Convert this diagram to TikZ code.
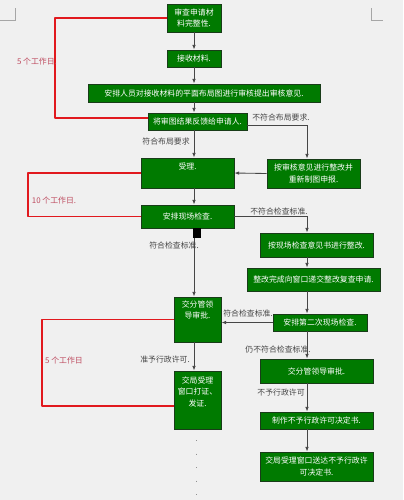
\documentclass[tikz,border=0pt]{standalone}
\usepackage{fontspec}
\setmainfont{Noto Sans CJK SC}
\usetikzlibrary{arrows.meta}
\definecolor{boxgreen}{RGB}{0,122,0}
\definecolor{boxedge}{RGB}{25,60,25}
\definecolor{pagebg}{RGB}{240,240,240}
\definecolor{limitred}{RGB}{225,25,30}
\definecolor{limittext}{RGB}{190,75,95}
\definecolor{flowgray}{RGB}{70,70,70}
\tikzset{gbox/.style={draw=boxedge,fill=boxgreen,text=white,line width=0.5pt,inner sep=0pt,
   align=center,font=\fontsize{5.6}{8}\selectfont},
 flow/.style={draw=flowgray,line width=0.6pt,-{Latex[length=1.2mm,width=0.9mm]}},
 limit/.style={draw=limitred,line width=1.4pt,line join=round},
 note/.style={text=flowgray,inner sep=0pt,font=\fontsize{5.6}{7}\selectfont},
 daynote/.style={text=limittext,inner sep=0pt,font=\fontsize{5.6}{7}\selectfont}}

\begin{document}
\begin{tikzpicture}[x=0.025cm,y=-0.025cm]
\path[fill=pagebg] (0,0) rectangle (403,500);
\useasboundingbox (0,0) rectangle (403,500);
% page corner marks
\draw[black!35,line width=0.4pt] (0,20) -- (15,20) -- (15,8);
\draw[black!35,line width=0.4pt] (371,8) -- (371,20) -- (383,20);
\coordinate (rcol) at (307,0);
% main column
\node[gbox,minimum width=1.35cm,minimum height=0.70cm] (shenqing) at (194,18) {审查申请材\\料完整性.};
\node[gbox,minimum width=1.35cm,minimum height=0.425cm] (jieshou) at (194,58.5) {接收材料.};
\node[gbox,minimum width=5.80cm,minimum height=0.45cm] (shentu) at (204,93) {安排人员对接收材料的平面布局图进行审核提出审核意见.};
\node[gbox,minimum width=2.475cm,minimum height=0.425cm] (fankui) at (197.5,121.5) {将审图结果反馈给申请人.};
\node[gbox,minimum width=2.325cm,minimum height=0.75cm,text depth=9pt] (shouli) at (187.5,173) {受理.};
\node[gbox,minimum width=2.325cm,minimum height=0.725cm] (zhitu) at (313.5,173.5) {按审核意见进行整改并\\重新制图申报.};
\node[gbox,minimum width=2.325cm,minimum height=0.575cm] (xianchang) at (187.5,216.5) {安排现场检查.};
\node[gbox,minimum width=1.175cm,minimum height=1.125cm,text depth=14pt] (pishen) at (197.5,319.5) {交分管领\\导审批.};
\node[gbox,minimum width=1.175cm,minimum height=1.45cm,text depth=12pt] (fazheng) at (197.5,400) {交局受理\\窗口打证、\\发证.};
% right column
\node[gbox,minimum width=2.825cm,minimum height=0.60cm] (zhenggai) at (316.5,245) {按现场检查意见书进行整改.};
\node[gbox,minimum width=3.325cm,minimum height=0.575cm] (fucha) at (313.5,279.5) {整改完成向窗口递交整改复查申请.};
\node[gbox,minimum width=2.35cm,minimum height=0.425cm] (erci) at (320,322.5) {安排第二次现场检查.};
\node[gbox,minimum width=2.825cm,minimum height=0.60cm] (lingdao) at (316.5,371) {交分管领导审批.};
\node[gbox,minimum width=2.825cm,minimum height=0.425cm] (zhizuo) at (316.5,420.5) {制作不予行政许可决定书.};
\node[gbox,minimum width=2.825cm,minimum height=0.725cm] (songda) at (316.5,466.5) {交局受理窗口送达不予行政许\\可决定书.};
% connectors
\draw[flow] (shenqing) -- (jieshou);
\draw[flow] (jieshou) -- (jieshou |- shentu.north);
\draw[flow] (shentu.south -| jieshou) -- (jieshou |- fankui.north);
\draw[flow] (fankui.south -| jieshou) -- (jieshou |- shouli.north);
\draw[flow] ([yshift=-0.09cm]fankui.east) -| (rcol |- zhitu.north);
\draw[flow] (zhitu.west) -- (shouli.east);
\draw[flow] (shouli.south -| jieshou) -- (jieshou |- xianchang.north);
\draw[flow] (xianchang.east) -| (rcol |- zhenggai.north);
\draw[flow] (xianchang.south -| jieshou) -- (jieshou |- pishen.north);
\draw[flow] (rcol |- zhenggai.south) -- (rcol |- fucha.north);
\draw[flow] (rcol |- fucha.south) -- (rcol |- erci.north);
\draw[flow] (erci.west) -- (erci.west -| pishen.east);
\draw[flow] (rcol |- erci.south) -- (rcol |- lingdao.north);
\draw[flow] (pishen.south -| jieshou) -- (jieshou |- fazheng.north);
\draw[flow] (rcol |- lingdao.south) -- (rcol |- zhizuo.north);
\draw[flow] (rcol |- zhizuo.south) -- (rcol |- songda.north);
\node[fill=black,minimum width=0.2cm,minimum height=0.25cm,inner sep=0pt] (anker) at (197,233) {};
\draw[flowgray!60,dash pattern=on 0.6pt off 9pt] (196,440) -- (196,500);
% time limits
\draw[limit] (shenqing.west) -- ++(-112,0) |- ([yshift=0.09cm]fankui.west);
\draw[limit] (shouli.west) -- ++(-113,0) |- (xianchang.west);
\draw[limit] (pishen.west) -- ++(-132,0) |- ([yshift=-0.15cm]fazheng.west);
\node[daynote] (tage1) at (37,61) {5 个工作日.};
\node[daynote] (tage2) at (54,200) {10 个工作日.};
\node[daynote] (tage3) at (64,360) {5 个工作日};
% branch notes
\node[note] (n1) at (281,118) {不符合布局要求.};
\node[note] (n2) at (166,142) {符合布局要求};
\node[note] (n3) at (279,211) {不符合检查标准.};
\node[note] (n4) at (174,245) {符合检查标准.};
\node[note] (n5) at (248,313) {符合检查标准.};
\node[note] (n6) at (278,349) {仍不符合检查标准.};
\node[note] (n7) at (165,360) {准予行政许可.};
\node[note] (n8) at (281,393) {不予行政许可};
\end{tikzpicture}
\end{document}
